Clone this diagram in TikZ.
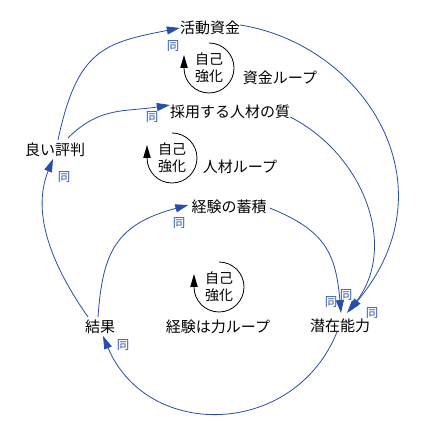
\documentclass[tikz,border=0pt]{standalone}
\usepackage{fontspec}
\setmainfont{Noto Sans CJK JP}
\usetikzlibrary{arrows.meta,calc}
\definecolor{lnk}{RGB}{40,78,168}
\definecolor{polc}{RGB}{45,85,170}
\tikzset{
  lbl/.style={font=\fontsize{15}{18}\selectfont, inner sep=0pt, text height=12pt, text depth=2pt},
  polar/.style={font=\fontsize{12.5}{13}\selectfont, text=polc, inner sep=0pt},
  link/.style={draw=lnk, line width=0.8pt, -{Triangle[length=13pt,width=8pt]}},
  looptxt/.style={font=\fontsize{14}{17}\selectfont, align=center, inner sep=0pt},
  looparc/.style={draw=black, line width=0.8pt},
}
\begin{document}
\begin{tikzpicture}[x=1pt,y=1pt]
\useasboundingbox (0,0) rectangle (430,436);
\fill[white] (0,0) rectangle (430,436);

% variables
\node[lbl] (kats)   at (210,407) {活動資金};
\node[lbl] (saiyo)  at (230,323) {採用する人材の質};
\node[lbl] (hyoban) at (55,285)  {良い評判};
\node[lbl] (keiken) at (229,228) {経験の蓄積};
\node[lbl] (kekka)  at (100,108) {結果};
\node[lbl] (senzai) at (340,109) {潜在能力};

% loop names
\node[lbl] (n1) at (280,357) {資金ループ};
\node[lbl] (n2) at (240,268) {人材ループ};
\node[lbl] (n3) at (218,108) {経験は力ループ};

% loop symbols
\foreach \nm/\cx/\cy in {l1/209/368, l2/172/278, l3/219/149}{
  \node[looptxt] (\nm) at (\cx,\cy) {自己\\強化};
  \draw[looparc] ($(\nm)+(90:25)$) arc[start angle=90, end angle=-180, radius=25];
  \fill ($(\nm)+(-28.8,0)$) -- ($(\nm)+(-21.2,0)$) -- ($(\nm)+(-25,13)$) -- cycle;
}

% links
\draw[link] ($(hyoban)+(3,11)$) to[out=78, in=191, out distance=92, in distance=78] ($(kats.west)+(0,1)$);
\draw[link] ($(hyoban)+(13,13)$) to[out=45, in=189, out distance=45, in distance=45] ($(saiyo.west)+(0,8)$);
\draw[link] ($(kekka)+(-12,11)$) to[out=125, in=248, out distance=60, in distance=60] ($(hyoban)+(-2,-8)$);
\draw[link] ($(kekka)+(-2,11)$) to[out=86, in=195, out distance=65, in distance=75] ($(keiken.west)+(-3,3)$);
\draw[link] ($(kats.east)+(0,4)$) to[out=-9, in=50, out distance=125, in distance=165] ($(senzai)+(9,16)$);
\draw[link] ($(saiyo.east)+(0,-4)$) to[out=-27, in=51, out distance=83, in distance=83] ($(senzai)+(7,14)$);
\draw[link] ($(keiken.east)+(3,0)$) to[out=-22, in=95, out distance=60, in distance=60] ($(senzai)+(1,14)$);
\draw[link] ($(senzai)+(-3,-5)$) to[out=248, in=293, out distance=114, in distance=114] ($(kekka)+(3,-8)$);

% polarity marks
\node[polar] (p1) at (173,390) {同};
\node[polar] (p2) at (152,319) {同};
\node[polar] (p3) at (64,259)  {同};
\node[polar] (p4) at (179,213) {同};
\node[polar] (p5) at (331,134) {同};
\node[polar] (p6) at (346,141) {同};
\node[polar] (p7) at (372,123) {同};
\node[polar] (p8) at (123,91)  {同};
\end{tikzpicture}
\end{document}
